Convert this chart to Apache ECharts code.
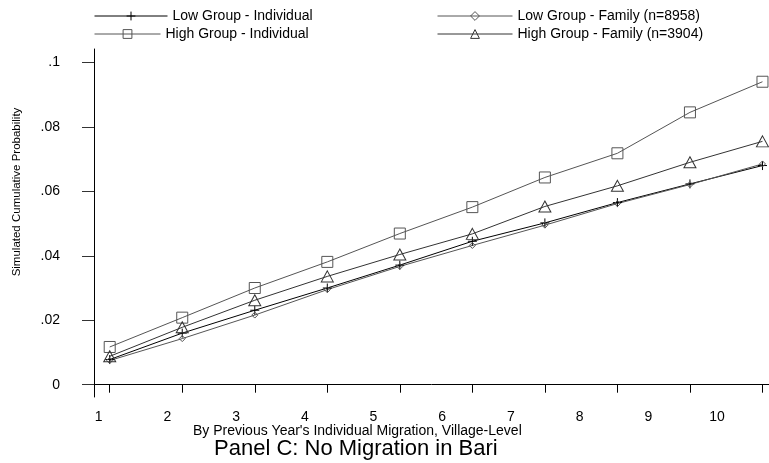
<!DOCTYPE html>
<html>
<head>
<meta charset="utf-8">
<script src="https://cdn.jsdelivr.net/npm/echarts@6/dist/echarts.min.js"></script>
<style>
  html, body { margin: 0; padding: 0; background: #fff; }
  #chart { width: 769px; height: 463px; }
</style>
</head>
<body>
<div id="chart"></div>
<script>
// simulated cumulative probability by village migration decile
const xValues = [1, 2, 3, 4, 5, 6, 7, 8, 9, 10];
const xTickLabels = ["1", "2", "3", "4", "5", "6", "7", "8", "9", "10"];
const yTicks = [0, 0.02, 0.04, 0.06, 0.08, 0.1];

const lowIndividual = [0.0078, 0.0160, 0.0231, 0.0300, 0.0371, 0.0445, 0.0502, 0.0565, 0.0623, 0.0680];
const lowFamily = [0.0075, 0.0143, 0.0216, 0.0295, 0.0367, 0.0432, 0.0495, 0.0562, 0.0621, 0.0685];
const highIndividual = [0.0117, 0.0208, 0.0300, 0.0381, 0.0469, 0.0551, 0.0643, 0.0718, 0.0845, 0.0940];
const highFamily = [0.0088, 0.0178, 0.0262, 0.0336, 0.0404, 0.0468, 0.0553, 0.0617, 0.0690, 0.0755];

const FONT = "'Liberation Sans', Arial, sans-serif";
const PLUS = "path://M0,5L10,5M5,0L5,10";

const chart = echarts.init(document.getElementById("chart"), null, { renderer: "canvas" });

function mk(name, data, symbol, size, color) {
  return {
    name,
    type: "line",
    xAxisIndex: 0,
    data: data.map((v, i) => [xValues[i], v]),
    symbol,
    symbolSize: size,
    showSymbol: true,
    lineStyle: { color, width: 1 },
    itemStyle: { color: symbol === PLUS ? color : "rgba(255,255,255,0)", borderColor: color, borderWidth: 1 },
    emphasis: { disabled: true },
    z: 3,
  };
}

const legendBase = {
  orient: "horizontal",
  itemHeight: 11,
  selectedMode: false,
  padding: 0,
  lineStyle: { width: 1 },
  itemStyle: { borderWidth: 1 },
  textStyle: { color: "#000", fontSize: 14, fontFamily: FONT },
};

chart.setOption({
  animation: false,
  backgroundColor: "#fff",
  textStyle: { fontFamily: FONT },
  legend: [
    { ...legendBase, data: ["Low Group - Individual"], left: 94, top: 9, itemWidth: 73 },
    { ...legendBase, data: ["High Group - Individual"], left: 94, top: 27, itemWidth: 66 },
    { ...legendBase, data: ["Low Group - Family (n=8958)"], left: 437, top: 9, itemWidth: 75 },
    { ...legendBase, data: ["High Group - Family (n=3904)"], left: 437, top: 27, itemWidth: 75 },
  ],
  title: [
    {
      text: "By Previous Year's Individual Migration, Village-Level",
      left: 193, top: 424, padding: 0,
      textStyle: { fontSize: 14, fontWeight: "normal", color: "#000", fontFamily: FONT },
    },
    {
      text: "Panel C: No Migration in Bari",
      left: 214, top: 438, padding: 0,
      textStyle: { fontSize: 22, fontWeight: "normal", color: "#000", fontFamily: FONT },
    },
  ],
  graphic: [
    {
      type: "text",
      x: 17, y: 192,
      rotation: Math.PI / 2,
      style: {
        text: "Simulated Cumulative Probability",
        fontSize: 11.5, fontFamily: FONT, fill: "#000",
        align: "center", verticalAlign: "middle",
      },
    },
  ],
  grid: { left: 94, right: 0, top: 49, bottom: 66, containLabel: false },
  xAxis: [
    {
      type: "value",
      min: 0.7834,
      max: 10.09,
      axisLine: { show: true, lineStyle: { color: "#000", width: 1 } },
      axisTick: { show: true, customValues: xValues, length: 8, lineStyle: { color: "#000" } },
      axisLabel: { show: false },
      splitLine: { show: false },
    },
    {
      type: "value",
      position: "bottom",
      min: 0.9316,
      max: 10.757,
      axisLine: { show: false },
      axisTick: { show: false },
      axisLabel: {
        show: true,
        customValues: xValues,
        formatter: (v) => xTickLabels[xValues.indexOf(Math.round(v))] || "",
        margin: 13,
        fontSize: 14,
        color: "#000",
        fontFamily: FONT,
      },
      splitLine: { show: false },
    },
  ],
  yAxis: {
    type: "value",
    min: -0.00382,
    max: 0.10416,
    axisLine: { show: true, lineStyle: { color: "#000", width: 1 } },
    axisTick: { show: true, customValues: yTicks, length: 12, lineStyle: { color: "#333" } },
    axisLabel: {
      show: true,
      customValues: yTicks,
      formatter: (v) => (Math.abs(v) < 1e-9 ? "0" : String(+v.toFixed(2)).replace(/^0\./, ".")),
      margin: 34,
      fontSize: 14,
      color: "#000",
      fontFamily: FONT,
    },
    splitLine: { show: false },
  },
  series: [
    mk("Low Group - Individual", lowIndividual, PLUS, 9, "#000"),
    mk("Low Group - Family (n=8958)", lowFamily, "diamond", 6, "#555"),
    mk("High Group - Individual", highIndividual, "rect", 11, "#555"),
    mk("High Group - Family (n=3904)", highFamily, "triangle", [12, 11], "#333"),
  ],
});

window.addEventListener("resize", () => chart.resize());
</script>
</body>
</html>
